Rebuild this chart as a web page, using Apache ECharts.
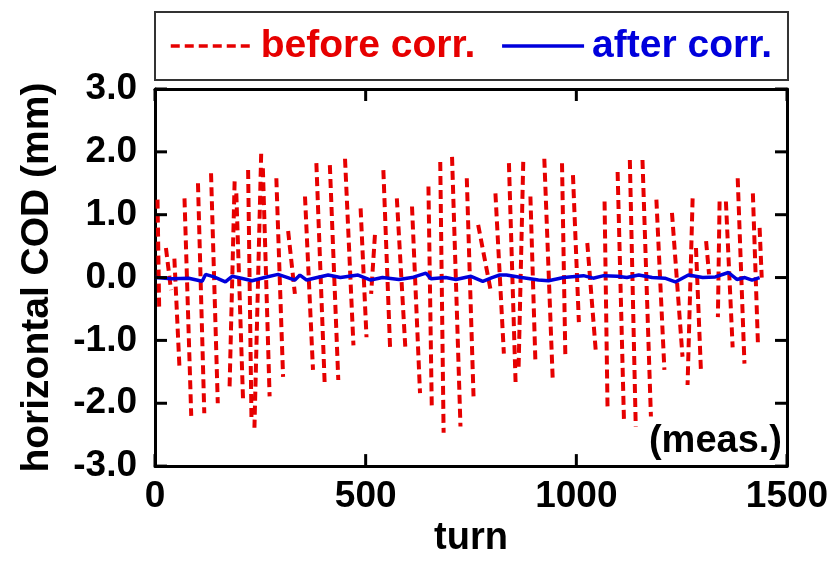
<!DOCTYPE html>
<html>
<head>
<meta charset="utf-8">
<script src="https://cdn.jsdelivr.net/npm/echarts@6/dist/echarts.min.js"></script>
<style>
  html, body { margin: 0; padding: 0; background: #fff; }
  #chart { width: 839px; height: 563px; }
</style>
</head>
<body>
<div id="chart"></div>
<script>
// before correction: each dashed stroke (top point -> bottom point)
const strokeTopTurn = [6, 26, 46, 70, 102, 133, 189, 193, 221, 252, 256, 288, 316, 356, 383, 415, 451, 488, 522, 542, 574, 610, 649, 677, 705, 740, 767, 808, 840, 874, 891, 924, 966, 992, 1026, 1067, 1098, 1127, 1157, 1190, 1227, 1276, 1284, 1308, 1340, 1355, 1383, 1419, 1435];
const strokeTopVal  = [1.24, 0.47, 0.30, 1.26, 1.50, 1.66, 1.53, 1.34, 1.71, 1.97, 1.74, 1.58, 0.74, 1.29, 1.82, 1.79, 1.89, 1.10, 0.68, 1.71, 1.26, 1.13, 1.45, 1.84, 1.92, 1.58, 0.84, 1.34, 1.82, 1.84, 1.29, 1.89, 1.82, 1.63, 0.55, 1.21, 1.68, 1.87, 1.87, 1.24, 1.03, 1.26, 0.47, 0.58, 1.21, 1.21, 1.58, 1.34, 0.79];
const strokeBotTurn = [10, 38, 58, 86, 117, 149, 177, 209, 229, 236, 272, 304, 332, 375, 403, 435, 471, 502, 513, 558, 594, 629, 657, 685, 725, 756, 796, 828, 856, 863, 903, 944, 974, 1006, 1046, 1074, 1113, 1141, 1177, 1209, 1252, 1264, 1296, 1315, 1336, 1371, 1399, 1431, 1440];
const strokeBotVal  = [-0.53, -0.20, -1.42, -2.20, -2.16, -2.00, -1.74, -1.95, -2.26, -2.39, -1.89, -1.58, -0.26, -1.47, -1.74, -1.63, -1.08, -0.95, -0.26, -1.13, -1.10, -1.84, -2.10, -2.47, -2.37, -1.89, -0.18, -1.21, -1.71, -1.42, -1.37, -1.63, -1.29, -0.71, -1.16, -2.05, -2.26, -2.37, -2.21, -1.47, -1.26, -1.71, -1.53, 0.05, -0.63, -1.11, -1.37, -1.05, 0.00];

// after correction
const afterTurn = [0, 40, 80, 112, 120, 140, 167, 183, 205, 230, 260, 292, 315, 332, 344, 360, 385, 411, 440, 482, 512, 540, 579, 610, 643, 655, 690, 714, 750, 778, 800, 818, 834, 870, 910, 934, 970, 1017, 1040, 1065, 1097, 1120, 1148, 1180, 1210, 1235, 1266, 1300, 1330, 1361, 1381, 1400, 1417, 1435];
const afterVal  = [0, -0.02, -0.01, -0.06, 0.05, 0.01, -0.07, 0.02, -0.01, -0.05, 0.0, 0.05, 0.0, -0.04, 0.04, -0.04, 0.0, 0.04, 0.0, 0.04, -0.04, 0.0, -0.03, 0.0, 0.07, -0.02, 0.0, -0.03, 0.02, -0.06, 0.0, 0.04, 0.04, 0.0, -0.04, -0.05, 0.0, 0.03, -0.01, 0.03, 0.02, 0.0, 0.04, 0.0, -0.01, -0.07, 0.04, 0.0, 0.01, 0.08, -0.03, 0.0, -0.04, 0.0];

// tick positions (inward ticks on all four sides)
const xTickVals = [0, 500, 1000, 1500];
const yTickVals = [-3, -2, -1, 0, 1, 2, 3];

const FONT = '"Liberation Sans", Arial, sans-serif';
const RED = '#e60000';
const BLUE = '#0000dc';
const TICK = 12;

// separate strokes, broken with '-' so they are not joined
const beforeData = [];
strokeTopTurn.forEach((t, i) => {
  beforeData.push([t, strokeTopVal[i]]);
  beforeData.push([strokeBotTurn[i], strokeBotVal[i]]);
  beforeData.push([strokeBotTurn[i], '-']);
});
const afterData = afterTurn.map((t, i) => [t, afterVal[i]]);

// tick items: [value, 0] for x ticks, [value, 1] for y ticks
const tickData = xTickVals.map(v => [v, 0]).concat(yTickVals.map(v => [v, 1]));

function boxAxis(position, isX, extra) {
  return Object.assign({
    type: 'value', position,
    min: isX ? xTickVals[0] : yTickVals[0],
    max: isX ? xTickVals[xTickVals.length - 1] : yTickVals[yTickVals.length - 1],
    interval: isX ? 500 : 1,
    axisLine: { show: true, onZero: false, lineStyle: { color: '#000', width: 3 } },
    axisTick: { show: false },
    splitLine: { show: false },
    axisLabel: { show: false }
  }, extra || {});
}
const labelStyle = { show: true, fontSize: 37, fontWeight: 'bold', color: '#000', fontFamily: FONT };

const chart = echarts.init(document.getElementById('chart'));
chart.setOption({
  animation: false,
  backgroundColor: '#fff',
  grid: { left: 155, right: 52, top: 89, bottom: 94 },
  legend: {
    left: 155, top: 12,
    padding: [14, 16, 14, 14],
    itemWidth: 82, itemHeight: 14, itemGap: 25,
    borderColor: '#333', borderWidth: 2,
    itemStyle: { opacity: 0 },
    lineStyle: { width: 3.5 },
    textStyle: { fontSize: 39, fontWeight: 'bold', fontFamily: FONT, lineHeight: 40, padding: [0, 0, 0, 3] },
    data: [
      { name: 'before corr.', textStyle: { color: RED } },
      { name: 'after corr.', textStyle: { color: BLUE } }
    ]
  },
  xAxis: [
    boxAxis('bottom', true, {
      axisLabel: Object.assign({}, labelStyle, { margin: 12, formatter: v => String(v) }),
      name: 'turn', nameLocation: 'middle', nameGap: 52,
      nameTextStyle: { fontSize: 38, fontWeight: 'bold', color: '#000', fontFamily: FONT }
    }),
    boxAxis('top', true)
  ],
  yAxis: [
    boxAxis('left', false, {
      axisLabel: Object.assign({}, labelStyle, { margin: 18, formatter: v => v.toFixed(1) }),
      name: 'horizontal COD (mm)', nameLocation: 'middle', nameGap: 98,
      nameTextStyle: { fontSize: 39, fontWeight: 'bold', color: '#000', fontFamily: FONT }
    }),
    boxAxis('right', false)
  ],
  graphic: [{
    type: 'text', right: 57, top: 423,
    style: { text: '(meas.)', font: 'bold 38px ' + FONT, fill: '#000' }
  }],
  series: [
    {
      name: 'before corr.', type: 'line', data: beforeData,
      symbol: 'none', connectNulls: false, z: 2,
      lineStyle: { color: RED, width: 4, type: [9, 5] },
      itemStyle: { color: RED }
    },
    {
      name: 'after corr.', type: 'line', data: afterData,
      symbol: 'none', z: 3,
      lineStyle: { color: BLUE, width: 3.5 },
      itemStyle: { color: BLUE }
    },
    {
      name: 'ticks', type: 'custom', data: tickData, clip: false, silent: true, z: 5,
      renderItem: (params, api) => {
        const v = api.value(0);
        const style = { stroke: '#000', lineWidth: 3 };
        if (api.value(1) === 0) {
          const b = api.coord([v, yTickVals[0]]);
          const t = api.coord([v, yTickVals[yTickVals.length - 1]]);
          return { type: 'group', children: [
            { type: 'line', shape: { x1: b[0], y1: b[1], x2: b[0], y2: b[1] - TICK }, style },
            { type: 'line', shape: { x1: t[0], y1: t[1], x2: t[0], y2: t[1] + TICK }, style }
          ] };
        }
        const l = api.coord([xTickVals[0], v]);
        const r = api.coord([xTickVals[xTickVals.length - 1], v]);
        return { type: 'group', children: [
          { type: 'line', shape: { x1: l[0], y1: l[1], x2: l[0] + TICK, y2: l[1] }, style },
          { type: 'line', shape: { x1: r[0], y1: r[1], x2: r[0] - TICK, y2: r[1] }, style }
        ] };
      }
    }
  ]
});
</script>
</body>
</html>
